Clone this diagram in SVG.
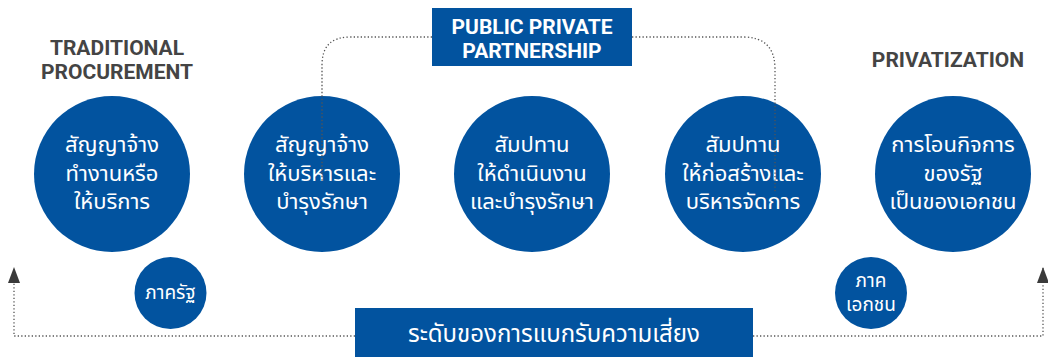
<svg xmlns="http://www.w3.org/2000/svg" width="1048" height="357" viewBox="0 0 1048 357">
<defs>
<marker id="arr" markerWidth="16" markerHeight="12" refX="15" refY="6" orient="auto" markerUnits="userSpaceOnUse" viewBox="0 0 16 12">
<path d="M0,0 L16,6 L0,12 Z" fill="#3a3a3a"/>
</marker>
<style>
.big{fill:#02539f}
.tw{fill:#ffffff;font-family:"Noto Sans Thai","Noto Sans","DejaVu Sans",sans-serif;font-size:22px;text-anchor:middle}
.tb{fill:#ffffff;font-family:"Noto Sans Thai","Noto Sans","DejaVu Sans",sans-serif;font-size:24px;text-anchor:middle}
.ts{fill:#ffffff;font-family:"Noto Sans Thai","Noto Sans","DejaVu Sans",sans-serif;font-size:19px;text-anchor:middle}
.hd{fill:#444444;font-family:Roboto,"Liberation Sans",sans-serif;font-weight:bold;font-size:21px;text-anchor:middle}
.hw{fill:#ffffff;font-family:Roboto,"Liberation Sans",sans-serif;font-weight:bold;font-size:21px;text-anchor:middle}
.dot{fill:none;stroke:#555555;stroke-width:1.3;stroke-dasharray:1.3 2.2}
</style>
</defs>
<rect width="1048" height="357" fill="#ffffff"/>

<g id="title-traditional">
<text class="hd" x="117" y="55">TRADITIONAL</text>
<text class="hd" x="117" y="79">PROCUREMENT</text>
</g>
<g id="title-privatization">
<text class="hd" x="948" y="67">PRIVATIZATION</text>
</g>

<g id="n1">
<circle class="big" cx="112" cy="174" r="78"/>
<text class="tw" x="112" y="152">สัญญาจ้าง</text>
<text class="tw" x="112" y="181">ทำงานหรือ</text>
<text class="tw" x="112" y="209">ให้บริการ</text>
</g>
<g id="n2">
<circle class="big" cx="322" cy="174" r="78"/>
<text class="tw" x="322" y="152">สัญญาจ้าง</text>
<text class="tw" x="322" y="181">ให้บริหารและ</text>
<text class="tw" x="322" y="209">บำรุงรักษา</text>
</g>
<g id="n3">
<circle class="big" cx="532" cy="174" r="78"/>
<text class="tw" x="532" y="152">สัมปทาน</text>
<text class="tw" x="532" y="181">ให้ดำเนินงาน</text>
<text class="tw" x="532" y="209">และบำรุงรักษา</text>
</g>
<g id="n4">
<circle class="big" cx="743" cy="174" r="78"/>
<text class="tw" x="743" y="152">สัมปทาน</text>
<text class="tw" x="743" y="181">ให้ก่อสร้างและ</text>
<text class="tw" x="743" y="209">บริหารจัดการ</text>
</g>
<g id="n5">
<circle class="big" cx="953" cy="174" r="78"/>
<text class="tw" x="953" y="152">การโอนกิจการ</text>
<text class="tw" x="953" y="181">ของรัฐ</text>
<text class="tw" x="953" y="209">เป็นของเอกชน</text>
</g>

<g id="public">
<circle class="big" cx="170.5" cy="293" r="36"/>
<text class="ts" x="170.5" y="299">ภาครัฐ</text>
</g>
<g id="private">
<circle class="big" cx="871" cy="293" r="36"/>
<text class="ts" x="871" y="287">ภาค</text>
<text class="ts" x="871" y="311">เอกชน</text>
</g>

<g id="connectors">
<path class="dot" d="M432,37 L350,37 Q322,37 322,65 L322,182"/>
<path class="dot" d="M632,37 L743,37 Q775,37 775,69 L775,193"/>
<path class="dot" d="M355,336 L14,336 L14,268" marker-end="url(#arr)"/>
<path class="dot" d="M753,336 L1043,336 L1043,268" marker-end="url(#arr)"/>
</g>

<g id="ppp">
<rect class="big" x="432" y="8" width="200" height="58"/>
<text class="hw" x="532" y="34">PUBLIC PRIVATE</text>
<text class="hw" x="532" y="58">PARTNERSHIP</text>
</g>

<g id="risk">
<rect class="big" x="355" y="308" width="398" height="49"/>
<text class="tb" x="554" y="342">ระดับของการแบกรับความเสี่ยง</text>
</g>
</svg>
